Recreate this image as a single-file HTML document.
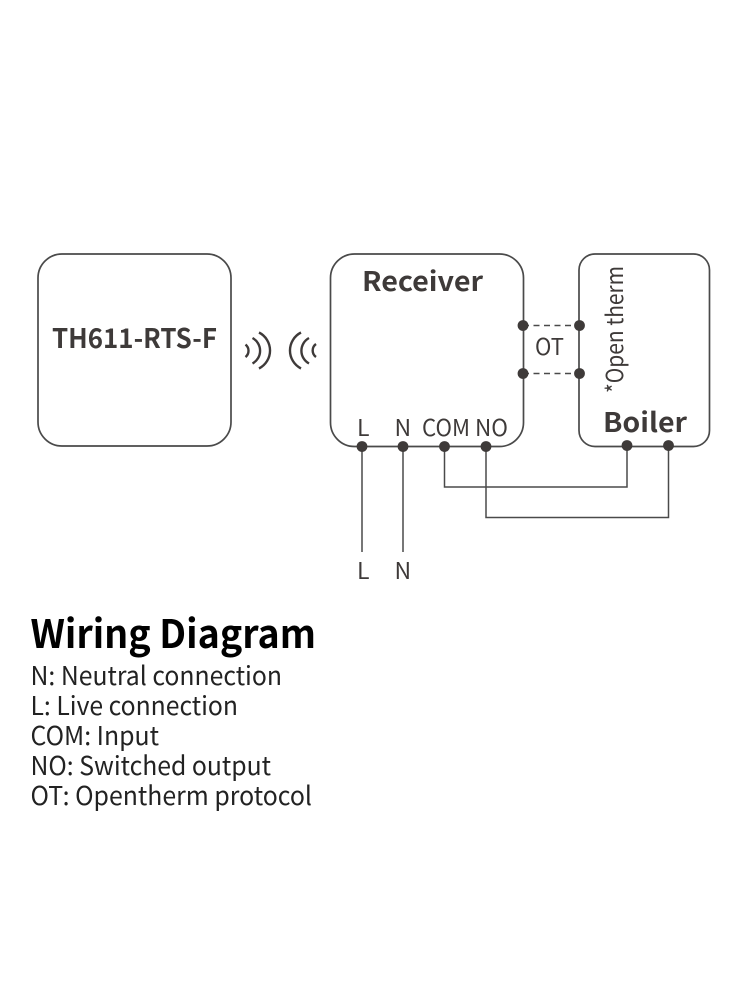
<!DOCTYPE html>
<html><head><meta charset="utf-8"><style>
html,body{margin:0;padding:0;background:#fff}
svg{display:block}
text{font-family:"Noto Sans CJK SC","Liberation Sans",sans-serif}
</style></head><body>
<svg width="750" height="1000" viewBox="0 0 750 1000" xmlns="http://www.w3.org/2000/svg">
<rect width="750" height="1000" fill="#fff"/>
<g fill="none" stroke="#4a4a4a" stroke-width="1.7">
<rect x="38" y="254" width="193" height="192" rx="24"/>
<rect x="330.500" y="254" width="193" height="192.500" rx="24"/>
<rect x="579" y="254" width="130.500" height="192.500" rx="16"/>
</g>
<g fill="none" stroke="#4a4a4a" stroke-width="1.5">
<path d="M362 446V552M403 446V552"/>
<path d="M444.500 446V487H627V446"/>
<path d="M486 446V517.500H668.500V446"/>
<path d="M523 325.500H579M523 373.500H579" stroke-dasharray="6 4.500"/>
</g>
<g fill="none" stroke="#3e3a39" stroke-width="2.400">
<path d="M245.500 344.500A8 8 0 0 1 245.500 357"/>
<path d="M252.500 338A14.500 14.500 0 0 1 252.500 363.500"/>
<path d="M259 332.500A20.200 20.200 0 0 1 259 368.500"/>
<path d="M301 332.500A20.200 20.200 0 0 0 301 368.500"/>
<path d="M309 338A14.500 14.500 0 0 0 309 363.500"/>
<path d="M316 344A8 8 0 0 0 316 357"/>
</g>
<g fill="#3e3a39">
<circle cx="523" cy="325.500" r="5.400"/><circle cx="523" cy="373.500" r="5.400"/>
<circle cx="579.500" cy="325.500" r="5.400"/><circle cx="579.500" cy="373.500" r="5.400"/>
<circle cx="362" cy="446.500" r="5.400"/><circle cx="403" cy="446.500" r="5.400"/>
<circle cx="444.500" cy="446.500" r="5.400"/><circle cx="486" cy="446.500" r="5.400"/>
<circle cx="627" cy="445.500" r="5.400"/><circle cx="668.500" cy="445.500" r="5.400"/>
</g>
<g fill="#3e3a39" font-size="27" font-weight="700">
<text x="52" y="348" textLength="165" lengthAdjust="spacingAndGlyphs">TH611-RTS-F</text>
<text x="362" y="291" textLength="121" lengthAdjust="spacingAndGlyphs">Receiver</text>
<text x="603" y="432" textLength="84" lengthAdjust="spacingAndGlyphs">Boiler</text>
</g>
<g fill="#3e3a39" font-size="23">
<text x="357" y="436">L</text>
<text x="394.500" y="436">N</text>
<text x="422" y="436" textLength="48" lengthAdjust="spacingAndGlyphs">COM</text>
<text x="475" y="436" textLength="33" lengthAdjust="spacingAndGlyphs">NO</text>
<text x="535" y="355" textLength="29" lengthAdjust="spacingAndGlyphs">OT</text>
<text x="357" y="579">L</text>
<text x="394.500" y="579">N</text>
<text transform="translate(623,393) rotate(-90)" textLength="127" lengthAdjust="spacingAndGlyphs">*Open therm</text>
</g>
<text x="30.500" y="648" font-size="39" font-weight="700" fill="#000" textLength="285.500" lengthAdjust="spacingAndGlyphs">Wiring Diagram</text>
<g fill="#222" font-size="26">
<text x="30.500" y="685" textLength="251.500" lengthAdjust="spacingAndGlyphs">N: Neutral connection</text>
<text x="30.500" y="715" textLength="207.500" lengthAdjust="spacingAndGlyphs">L: Live connection</text>
<text x="30.500" y="745" textLength="128.500" lengthAdjust="spacingAndGlyphs">COM: Input</text>
<text x="30.500" y="775" textLength="240.500" lengthAdjust="spacingAndGlyphs">NO: Switched output</text>
<text x="30.500" y="805" textLength="281.500" lengthAdjust="spacingAndGlyphs">OT: Opentherm protocol</text>
</g>
</svg>
</body></html>
